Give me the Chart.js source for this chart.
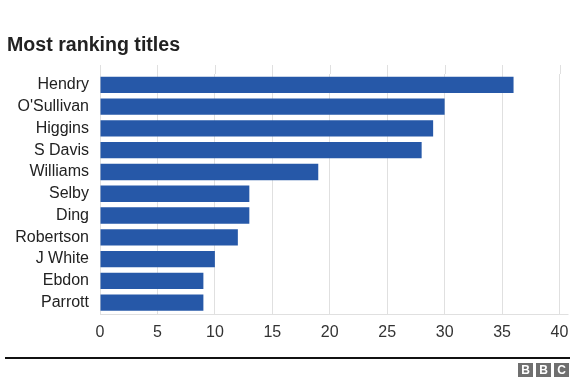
<!DOCTYPE html>
<html>
<head>
<meta charset="utf-8">
<script src="https://cdn.jsdelivr.net/npm/chart.js@4"></script>
<style>
  html, body { margin: 0; padding: 0; background: #fff; }
  #wrap { position: relative; width: 588px; height: 388px; overflow: hidden; }
  #c { position: absolute; left: 0; top: 0; }
  .rule { position: absolute; left: 5px; top: 357px; width: 565px; height: 2px; background: #111; }
  .bbc { position: absolute; top: 363px; width: 15px; height: 14px; background: #6f6f6f; color: #fff;
         font: bold 12px "Liberation Sans", Arial, sans-serif; line-height: 14px; text-align: center; }
</style>
</head>
<body>
<div id="wrap">
  <canvas id="c" width="588" height="388"></canvas>
  <div class="rule"></div>
  <div class="bbc" style="left:518px">B</div>
  <div class="bbc" style="left:536px">B</div>
  <div class="bbc" style="left:554px">C</div>
</div>
<script>
const titleText = "Most ranking titles";
const players = ["Hendry", "O'Sullivan", "Higgins", "S Davis", "Williams", "Selby", "Ding", "Robertson", "J White", "Ebdon", "Parrott"];
const titles = [36, 30, 29, 28, 19, 13, 13, 12, 10, 9, 9];
const xTicks = [0, 5, 10, 15, 20, 25, 30, 35, 40];

const FONT = '"Liberation Sans", Arial, Helvetica, sans-serif';

const extras = {
  id: 'extras',
  beforeDatasetsDraw(chart) {
    const ctx = chart.ctx, x = chart.scales.x, area = chart.chartArea;
    ctx.save();
    ctx.strokeStyle = '#e0e0e0';
    ctx.lineWidth = 1;
    xTicks.forEach(v => {
      const px = Math.round(x.getPixelForValue(v)) + 0.5;
      ctx.beginPath();
      ctx.moveTo(px, 65);
      ctx.lineTo(px, area.top);
      ctx.stroke();
    });
    ctx.beginPath();
    ctx.moveTo(area.left, Math.round(area.bottom) + 0.5);
    ctx.lineTo(area.right + 9, Math.round(area.bottom) + 0.5);
    ctx.stroke();
    ctx.restore();
  },
  afterDraw(chart) {
    const ctx = chart.ctx;
    ctx.save();
    ctx.fillStyle = '#222';
    ctx.font = 'bold 19.6px ' + FONT;
    ctx.textBaseline = 'alphabetic';
    ctx.fillText(titleText, 7, 51);
    ctx.restore();
  }
};

new Chart(document.getElementById('c'), {
  type: 'bar',
  data: {
    labels: players,
    datasets: [{
      data: titles,
      backgroundColor: '#2658a8',
      borderWidth: 0,
      categoryPercentage: 1,
      barPercentage: 0.75
    }]
  },
  plugins: [extras],
  options: {
    indexAxis: 'y',
    responsive: false,
    animation: false,
    devicePixelRatio: 1,
    layout: { padding: { left: 0, right: 28.5, top: 74, bottom: 34.5 } },
    plugins: { legend: { display: false }, tooltip: { enabled: false }, title: { display: false } },
    scales: {
      x: {
        type: 'linear',
        min: 0, max: 40,
        afterBuildTicks(scale) { scale.ticks = xTicks.map(v => ({ value: v })); },
        afterFit(scale) { scale.height = 40; },
        grid: { color: '#e0e0e0', drawTicks: false },
        border: { display: false },
        ticks: { color: '#333', font: { family: FONT, size: 16 }, padding: 9, autoSkip: false, maxRotation: 0 }
      },
      y: {
        afterFit(scale) { scale.width = 100; },
        grid: { display: false, drawTicks: false },
        border: { display: false },
        ticks: { color: '#222', font: { family: FONT, size: 16 }, padding: 11, autoSkip: false }
      }
    }
  }
});
</script>
</body>
</html>
